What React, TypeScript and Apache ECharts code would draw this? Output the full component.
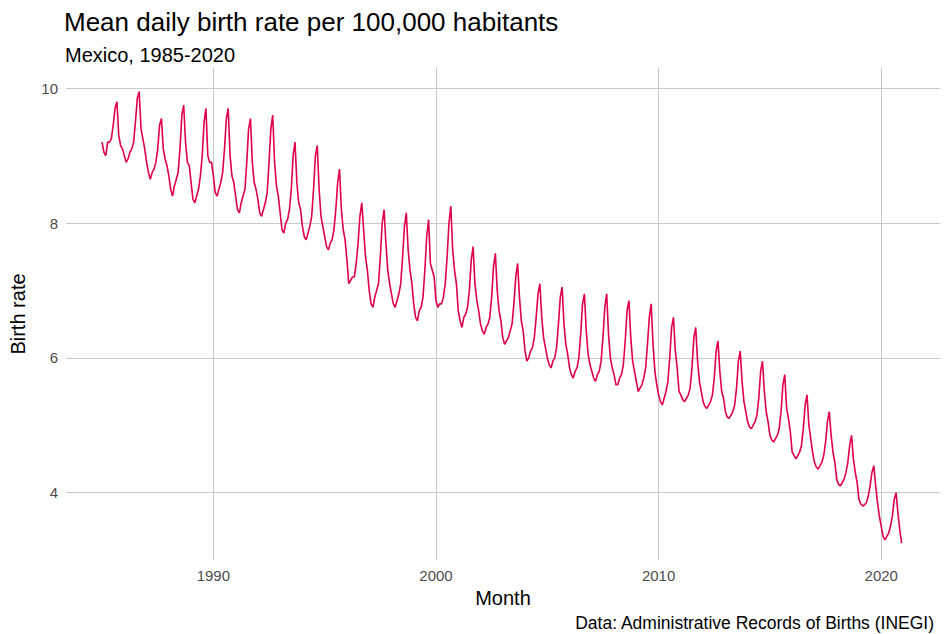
import { useEffect, useRef } from "react";
import * as echarts from "echarts";

// Monthly mean daily birth rate (Jan..Dec)
const years = [1985, 1986, 1987, 1988, 1989, 1990, 1991, 1992, 1993, 1994, 1995, 1996,
  1997, 1998, 1999, 2000, 2001, 2002, 2003, 2004, 2005, 2006, 2007, 2008,
  2009, 2010, 2011, 2012, 2013, 2014, 2015, 2016, 2017, 2018, 2019, 2020];

const monthly: number[][] = [
  [9.2, 9.05, 9.0, 9.2, 9.2, 9.25, 9.45, 9.7, 9.8, 9.3, 9.15, 9.1],
  [9.0, 8.9, 8.95, 9.05, 9.1, 9.2, 9.5, 9.85, 9.95, 9.4, 9.25, 9.1],
  [8.9, 8.75, 8.65, 8.75, 8.8, 8.9, 9.1, 9.45, 9.55, 9.1, 8.95, 8.85],
  [8.7, 8.5, 8.4, 8.55, 8.65, 8.75, 9.1, 9.6, 9.75, 9.2, 8.9, 8.85],
  [8.6, 8.35, 8.3, 8.4, 8.5, 8.7, 9.0, 9.5, 9.7, 9.0, 8.9, 8.9],
  [8.7, 8.45, 8.4, 8.5, 8.6, 8.75, 9.1, 9.55, 9.7, 9.0, 8.7, 8.6],
  [8.4, 8.2, 8.15, 8.3, 8.4, 8.5, 8.9, 9.4, 9.55, 8.9, 8.6, 8.5],
  [8.35, 8.15, 8.1, 8.2, 8.3, 8.45, 8.9, 9.4, 9.6, 8.9, 8.55, 8.4],
  [8.15, 7.9, 7.85, 8.0, 8.05, 8.2, 8.5, 9.0, 9.2, 8.6, 8.3, 8.2],
  [7.95, 7.8, 7.75, 7.85, 7.95, 8.1, 8.5, 9.0, 9.15, 8.5, 8.1, 7.95],
  [7.8, 7.65, 7.6, 7.7, 7.75, 7.9, 8.2, 8.6, 8.8, 8.2, 7.9, 7.75],
  [7.45, 7.1, 7.15, 7.2, 7.2, 7.4, 7.7, 8.1, 8.3, 7.9, 7.5, 7.3],
  [7.0, 6.8, 6.75, 6.9, 7.0, 7.1, 7.5, 8.0, 8.2, 7.7, 7.3, 7.1],
  [6.95, 6.8, 6.75, 6.85, 6.95, 7.1, 7.5, 7.95, 8.15, 7.6, 7.3, 7.1],
  [6.8, 6.6, 6.55, 6.7, 6.75, 6.9, 7.3, 7.8, 8.05, 7.4, 7.3, 7.2],
  [6.85, 6.75, 6.8, 6.8, 6.9, 7.1, 7.5, 8.0, 8.25, 7.6, 7.3, 7.1],
  [6.7, 6.55, 6.45, 6.6, 6.65, 6.75, 7.0, 7.45, 7.65, 7.1, 6.85, 6.7],
  [6.5, 6.4, 6.35, 6.45, 6.5, 6.6, 6.9, 7.35, 7.55, 7.0, 6.7, 6.55],
  [6.3, 6.2, 6.25, 6.3, 6.4, 6.5, 6.8, 7.2, 7.4, 6.9, 6.55, 6.4],
  [6.1, 5.95, 6.0, 6.1, 6.15, 6.3, 6.6, 6.95, 7.1, 6.6, 6.3, 6.15],
  [6.0, 5.9, 5.85, 5.95, 6.0, 6.15, 6.5, 6.9, 7.05, 6.5, 6.2, 6.05],
  [5.85, 5.75, 5.7, 5.8, 5.85, 6.0, 6.35, 6.8, 6.95, 6.4, 6.05, 5.9],
  [5.8, 5.7, 5.65, 5.75, 5.8, 5.95, 6.3, 6.75, 6.95, 6.35, 6.0, 5.85],
  [5.75, 5.6, 5.6, 5.7, 5.75, 5.9, 6.25, 6.7, 6.85, 6.3, 5.95, 5.8],
  [5.65, 5.5, 5.55, 5.6, 5.7, 5.85, 6.2, 6.6, 6.8, 6.2, 5.8, 5.6],
  [5.45, 5.35, 5.3, 5.4, 5.5, 5.65, 6.0, 6.45, 6.6, 6.1, 5.85, 5.5],
  [5.45, 5.38, 5.35, 5.4, 5.45, 5.55, 5.85, 6.3, 6.45, 5.95, 5.65, 5.5],
  [5.35, 5.28, 5.25, 5.3, 5.35, 5.45, 5.7, 6.1, 6.25, 5.8, 5.5, 5.4],
  [5.2, 5.12, 5.1, 5.15, 5.2, 5.3, 5.55, 5.95, 6.1, 5.65, 5.35, 5.2],
  [5.05, 4.97, 4.95, 5.0, 5.05, 5.15, 5.4, 5.8, 5.95, 5.5, 5.2, 5.05],
  [4.85, 4.78, 4.75, 4.8, 4.85, 4.95, 5.2, 5.6, 5.75, 5.25, 5.1, 4.9],
  [4.6, 4.55, 4.5, 4.55, 4.6, 4.7, 4.95, 5.3, 5.45, 5.0, 4.8, 4.6],
  [4.45, 4.38, 4.35, 4.4, 4.45, 4.55, 4.75, 5.05, 5.2, 4.85, 4.6, 4.45],
  [4.2, 4.12, 4.1, 4.15, 4.2, 4.3, 4.45, 4.7, 4.85, 4.5, 4.3, 4.15],
  [3.9, 3.83, 3.8, 3.82, 3.85, 3.95, 4.1, 4.3, 4.4, 4.1, 3.85, 3.65],
  [3.5, 3.35, 3.3, 3.35, 3.4, 3.5, 3.65, 3.9, 4.0, 3.7, 3.45, 3.25],
];

const xTicks = [1990, 2000, 2010, 2020];
const yTicks = [4, 6, 8, 10];

const FONT = "Arial, 'Liberation Sans', sans-serif";

export default function App() {
  const ref = useRef<HTMLDivElement>(null);

  useEffect(() => {
    document.body.style.margin = "0";
    const el = ref.current;
    if (!el) return;
    const data: [number, number][] = [];
    years.forEach((y, i) => monthly[i].forEach((v, m) => data.push([y + m / 12, v])));

    const chart = echarts.init(el, null, { renderer: "svg" });
    const gridLine = { show: true, lineStyle: { color: "#c9c9c9", width: 1 } };
    chart.setOption({
      animation: false,
      backgroundColor: "#fff",
      title: [
        { text: "Mean daily birth rate per 100,000 habitants", left: 59, top: 4, textStyle: { fontFamily: FONT, fontSize: 26, fontWeight: "normal", color: "#000" } },
        { text: "Mexico, 1985-2020", left: 60, top: 40, textStyle: { fontFamily: FONT, fontSize: 20, fontWeight: "normal", color: "#000" } },
        { text: "Data: Administrative Records of Births (INEGI)", right: 7, top: 609, textStyle: { fontFamily: FONT, fontSize: 17.5, fontWeight: "normal", color: "#000" } },
      ],
      grid: { left: 62, right: 7, top: 68, bottom: 74 },
      xAxis: {
        type: "value",
        min: 1983.38,
        max: 2022.64,
        name: "Month",
        nameLocation: "middle",
        nameGap: 28,
        nameTextStyle: { fontFamily: FONT, fontSize: 20, color: "#000" },
        axisLine: { show: false },
        axisTick: { show: false, customValues: xTicks },
        axisLabel: { customValues: xTicks, formatter: (v: number) => String(v), fontFamily: FONT, fontSize: 15, color: "#4d4d4d", margin: 8 },
        splitLine: gridLine,
      },
      yAxis: {
        type: "value",
        min: 3.0,
        max: 10.3,
        name: "Birth rate",
        nameLocation: "middle",
        nameGap: 38,
        nameRotate: 90,
        nameTextStyle: { fontFamily: FONT, fontSize: 20, color: "#000" },
        axisLine: { show: false },
        axisTick: { show: false, customValues: yTicks },
        axisLabel: { customValues: yTicks, fontFamily: FONT, fontSize: 15, color: "#4d4d4d", margin: 8 },
        splitLine: gridLine,
      },
      series: [{
        type: "line",
        data,
        showSymbol: false,
        lineStyle: { color: "#e0004d", width: 1.6 },
      }],
    });
    return () => chart.dispose();
  }, []);

  return <div ref={ref} style={{ width: 947, height: 634 }} />;
}
